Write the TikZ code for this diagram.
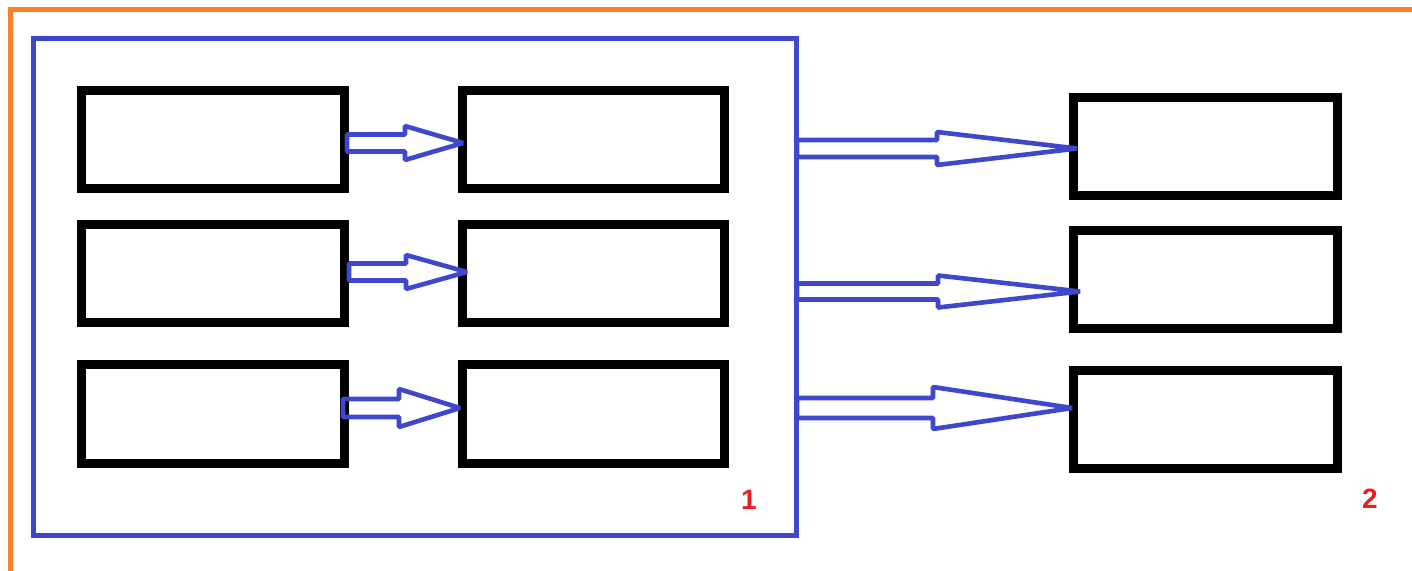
\documentclass[tikz,border=0pt]{standalone}
\usepackage{fontspec}
\setmainfont{Liberation Sans}
\usetikzlibrary{calc}
\definecolor{pblue}{HTML}{3F48CC}
\definecolor{porange}{HTML}{FF7F27}
\definecolor{pred}{HTML}{ED1C24}
\tikzset{
  blackbox/.style={draw=black, line width=4.5pt, inner sep=0pt, outer sep=0pt,
    minimum width=#1, minimum height=49pt},
  arrowline/.style={draw=pblue, line width=2.3pt, line join=bevel},
  framebox/.style={draw=pblue, line width=2.5pt, inner sep=0pt, outer sep=0pt},
  tag/.style={text=pred, font=\fontsize{14}{14}\selectfont\bfseries, inner sep=0pt}
}
\newcommand\hollowarrow[5]{% start, tip, head length, shaft half, head half
  \draw[arrowline] ($(#1)+(0,#4)$) -- ($(#2)+(-#3,#4)$) -- ($(#2)+(-#3,#5)$) -- (#2)
    -- ($(#2)+(-#3,-#5)$) -- ($(#2)+(-#3,-#4)$) -- ($(#1)+(0,-#4)$) -- cycle;}
\begin{document}
\begin{tikzpicture}[x=0.5pt,y=-0.5pt]
\useasboundingbox (0,0) rectangle (1412,571);
% outer orange frame
\draw[porange, line width=2.5pt] (10,574) -- (10,10) -- (1425,10);
\draw[porange!25, line width=2.5pt] (10,574) -- (1425,574);
% blue frame
\node[framebox, minimum width=381.5pt, minimum height=248pt] (frame1) at (414.5,287) {};
% left column
\node[blackbox=131.5pt] (l1) at (213,140) {};
\node[blackbox=131.5pt] (l2) at (213,273.5) {};
\node[blackbox=131.5pt] (l3) at (213,414) {};
% middle column
\node[blackbox=131pt] (m1) at (593.5,140) {};
\node[blackbox=131pt] (m2) at (593.5,273.5) {};
\node[blackbox=131pt] (m3) at (593.5,414) {};
% right column
\node[blackbox=132pt] (r1) at (1205.5,146.5) {};
\node[blackbox=132pt] (r2) at (1205.5,279.5) {};
\node[blackbox=132pt] (r3) at (1205.5,419.5) {};
% arrow end points
\coordinate (sa1) at (347,143);   \coordinate (ta1) at (463,143);
\coordinate (sa2) at (349,272);   \coordinate (ta2) at (467,272);
\coordinate (sa3) at (343,408);   \coordinate (ta3) at (460,408);
\coordinate (sb1) at (797,148.5); \coordinate (tb1) at (1077,148.5);
\coordinate (sb2) at (797,291.5); \coordinate (tb2) at (1080,291.5);
\coordinate (sb3) at (797,408);   \coordinate (tb3) at (1072,408);
% small arrows
\hollowarrow{sa1}{ta1}{58}{8.5}{17}
\hollowarrow{sa2}{ta2}{61}{8.5}{17}
\hollowarrow{sa3}{ta3}{61}{9}{19}
% large arrows
\hollowarrow{sb1}{tb1}{140}{8.5}{16.5}
\hollowarrow{sb2}{tb2}{142}{8}{16}
\hollowarrow{sb3}{tb3}{139}{10}{21}
% labels
\node[tag] (n1) at (749,500) {1};
\node[tag] (n2) at (1370,499) {2};
\end{tikzpicture}
\end{document}
